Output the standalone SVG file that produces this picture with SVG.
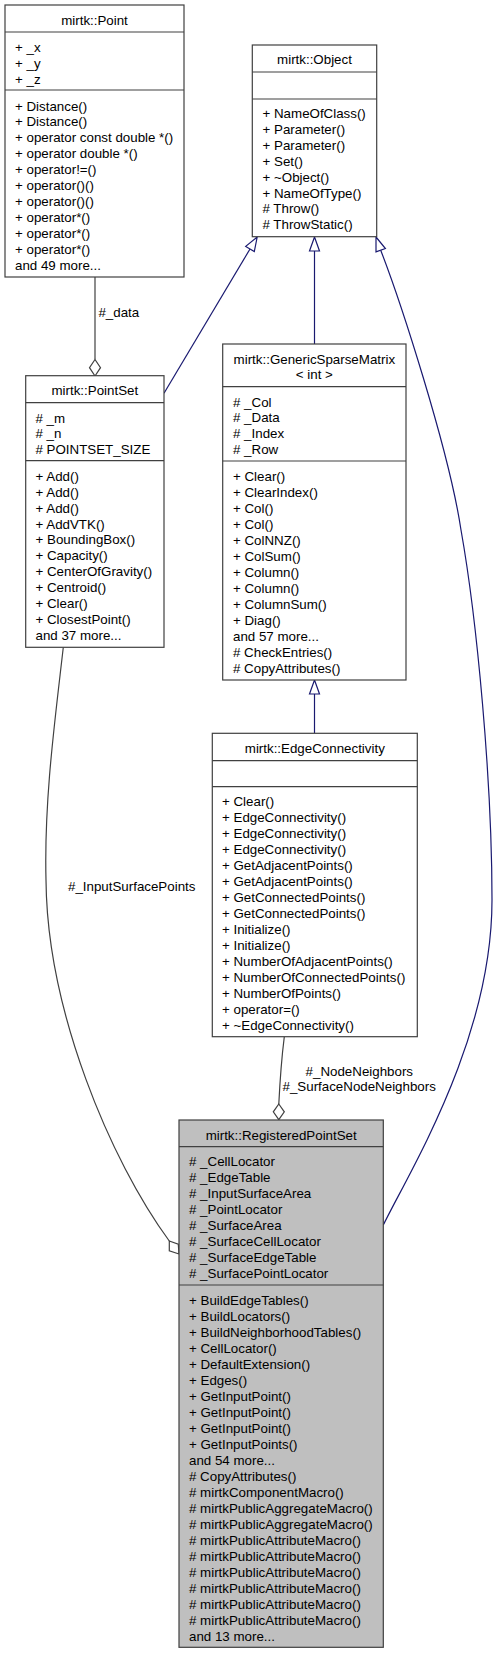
<svg xmlns="http://www.w3.org/2000/svg" width="495" height="1656" viewBox="0 0 495 1656">
<style>
text{font-family:"Liberation Sans",Arial,Helvetica,sans-serif;font-size:13.33px;fill:#000}
.t{text-anchor:middle}
.box{fill:#fff;stroke:#404040;stroke-width:1.2}
.cur{fill:#bfbfbf;stroke:#404040;stroke-width:1.2}
.sep{stroke:#404040;stroke-width:1.2}
.inh{fill:none;stroke:#191970;stroke-width:1.2}
.inhh{fill:#fff;stroke:#191970;stroke-width:1.2}
.agg{fill:none;stroke:#404040;stroke-width:1.2}
.aggh{fill:#fff;stroke:#404040;stroke-width:1.2}
</style>
<rect width="495" height="1656" fill="#fff"/>
<g id="connectors">
<path class="agg" d="M95,277 L95,359.5"/>
<polygon class="aggh" points="95,359.5 100.5,367.7 95,376 89.5,367.7"/>
<text class="t" x="118.8" y="316.5">#_data</text>
<path class="inh" d="M164,393.3 L250,249"/>
<polygon class="inhh" points="257.2,237 254.3,251.6 245.7,246.4"/>
<path class="inh" d="M314.5,251 L314.5,344"/>
<polygon class="inhh" points="314.5,237 319.5,251 309.5,251"/>
<path class="inh" d="M383.3,1225 C409,1172 492,1040 492,900 C492,780 477,620 461,530 C449,450 400,300 380.7,250.2"/>
<polygon class="inhh" points="376,237 385.4,248.5 376,251.9"/>
<path class="inh" d="M314.5,694 L314.5,733.3"/>
<polygon class="inhh" points="314.5,680 319.5,694 309.5,694"/>
<path class="agg" d="M284.3,1036.7 C282,1055 280,1080 278.8,1104"/>
<polygon class="aggh" points="278.8,1104 284.3,1111.8 278.8,1119.6 273.3,1111.8"/>
<text class="t" x="359.3" y="1075.5">#_NodeNeighbors</text>
<text class="t" x="359.2" y="1091">#_SurfaceNodeNeighbors</text>
<path class="agg" d="M63.3,647.3 C55,720 44,800 46,880 C47,1010 110,1160 169.3,1241"/>
<polygon class="aggh" points="169.3,1241 178.3,1244.3 179,1254 169.3,1250.7"/>
<text class="t" x="131.7" y="891">#_InputSurfacePoints</text>
</g>
<g id="node-Point">
<rect class="box" x="5" y="5" width="179" height="272"/>
<line class="sep" x1="5" y1="32" x2="184" y2="32"/>
<line class="sep" x1="5" y1="90" x2="184" y2="90"/>
<text class="t" x="94.5" y="24.5">mirtk::Point</text>
<text x="15" y="52">+ _x</text>
<text x="15" y="67.9">+ _y</text>
<text x="15" y="83.8">+ _z</text>
<text x="15" y="110.5">+ Distance()</text>
<text x="15" y="126.4">+ Distance()</text>
<text x="15" y="142.3">+ operator const double *()</text>
<text x="15" y="158.2">+ operator double *()</text>
<text x="15" y="174.1">+ operator!=()</text>
<text x="15" y="190">+ operator()()</text>
<text x="15" y="205.9">+ operator()()</text>
<text x="15" y="221.8">+ operator*()</text>
<text x="15" y="237.7">+ operator*()</text>
<text x="15" y="253.6">+ operator*()</text>
<text x="15" y="269.5">and 49 more...</text>
</g>
<g id="node-PointSet">
<rect class="box" x="25.7" y="375.7" width="138.3" height="271.6"/>
<line class="sep" x1="25.7" y1="402.7" x2="164" y2="402.7"/>
<line class="sep" x1="25.7" y1="460.7" x2="164" y2="460.7"/>
<text class="t" x="94.85" y="395">mirtk::PointSet</text>
<text x="35.5" y="422.5"># _m</text>
<text x="35.5" y="438.4"># _n</text>
<text x="35.5" y="454.3"># POINTSET_SIZE</text>
<text x="35.5" y="480.8">+ Add()</text>
<text x="35.5" y="496.7">+ Add()</text>
<text x="35.5" y="512.6">+ Add()</text>
<text x="35.5" y="528.5">+ AddVTK()</text>
<text x="35.5" y="544.4">+ BoundingBox()</text>
<text x="35.5" y="560.3">+ Capacity()</text>
<text x="35.5" y="576.2">+ CenterOfGravity()</text>
<text x="35.5" y="592.1">+ Centroid()</text>
<text x="35.5" y="608">+ Clear()</text>
<text x="35.5" y="623.9">+ ClosestPoint()</text>
<text x="35.5" y="639.8">and 37 more...</text>
</g>
<g id="node-Object">
<rect class="box" x="252.3" y="45" width="124.4" height="191.7"/>
<line class="sep" x1="252.3" y1="72" x2="376.7" y2="72"/>
<line class="sep" x1="252.3" y1="99" x2="376.7" y2="99"/>
<text class="t" x="314.5" y="64">mirtk::Object</text>
<text x="262.5" y="118">+ NameOfClass()</text>
<text x="262.5" y="133.9">+ Parameter()</text>
<text x="262.5" y="149.8">+ Parameter()</text>
<text x="262.5" y="165.7">+ Set()</text>
<text x="262.5" y="181.6">+ ~Object()</text>
<text x="262.5" y="197.5">+ NameOfType()</text>
<text x="262.5" y="213.4"># Throw()</text>
<text x="262.5" y="229.3"># ThrowStatic()</text>
</g>
<g id="node-GenericSparseMatrix">
<rect class="box" x="222.7" y="344" width="183.3" height="336"/>
<line class="sep" x1="222.7" y1="386.7" x2="406" y2="386.7"/>
<line class="sep" x1="222.7" y1="461" x2="406" y2="461"/>
<text class="t" x="314.35" y="363.5">mirtk::GenericSparseMatrix</text>
<text class="t" x="314.35" y="378.8">&lt; int &gt;</text>
<text x="233" y="406.5"># _Col</text>
<text x="233" y="422.4"># _Data</text>
<text x="233" y="438.3"># _Index</text>
<text x="233" y="454.2"># _Row</text>
<text x="233" y="480.5">+ Clear()</text>
<text x="233" y="496.5">+ ClearIndex()</text>
<text x="233" y="512.5">+ Col()</text>
<text x="233" y="528.5">+ Col()</text>
<text x="233" y="544.5">+ ColNNZ()</text>
<text x="233" y="560.5">+ ColSum()</text>
<text x="233" y="576.5">+ Column()</text>
<text x="233" y="592.5">+ Column()</text>
<text x="233" y="608.5">+ ColumnSum()</text>
<text x="233" y="624.5">+ Diag()</text>
<text x="233" y="640.5">and 57 more...</text>
<text x="233" y="656.5"># CheckEntries()</text>
<text x="233" y="672.5"># CopyAttributes()</text>
</g>
<g id="node-EdgeConnectivity">
<rect class="box" x="212.3" y="733.3" width="205" height="303.4"/>
<line class="sep" x1="212.3" y1="760.7" x2="417.3" y2="760.7"/>
<line class="sep" x1="212.3" y1="786.7" x2="417.3" y2="786.7"/>
<text class="t" x="314.8" y="752.8">mirtk::EdgeConnectivity</text>
<text x="222" y="806.3">+ Clear()</text>
<text x="222" y="822.25">+ EdgeConnectivity()</text>
<text x="222" y="838.2">+ EdgeConnectivity()</text>
<text x="222" y="854.15">+ EdgeConnectivity()</text>
<text x="222" y="870.1">+ GetAdjacentPoints()</text>
<text x="222" y="886.05">+ GetAdjacentPoints()</text>
<text x="222" y="902">+ GetConnectedPoints()</text>
<text x="222" y="917.95">+ GetConnectedPoints()</text>
<text x="222" y="933.9">+ Initialize()</text>
<text x="222" y="949.85">+ Initialize()</text>
<text x="222" y="965.8">+ NumberOfAdjacentPoints()</text>
<text x="222" y="981.75">+ NumberOfConnectedPoints()</text>
<text x="222" y="997.7">+ NumberOfPoints()</text>
<text x="222" y="1013.65">+ operator=()</text>
<text x="222" y="1029.6">+ ~EdgeConnectivity()</text>
</g>
<g id="node-RegisteredPointSet">
<rect class="cur" x="179" y="1120" width="204.3" height="527.3"/>
<line class="sep" x1="179" y1="1146.7" x2="383.3" y2="1146.7"/>
<line class="sep" x1="179" y1="1285" x2="383.3" y2="1285"/>
<text class="t" x="281.2" y="1139.5">mirtk::RegisteredPointSet</text>
<text x="189" y="1166.2"># _CellLocator</text>
<text x="189" y="1182.15"># _EdgeTable</text>
<text x="189" y="1198.1"># _InputSurfaceArea</text>
<text x="189" y="1214.05"># _PointLocator</text>
<text x="189" y="1230"># _SurfaceArea</text>
<text x="189" y="1245.95"># _SurfaceCellLocator</text>
<text x="189" y="1261.9"># _SurfaceEdgeTable</text>
<text x="189" y="1277.85"># _SurfacePointLocator</text>
<text x="189" y="1304.5">+ BuildEdgeTables()</text>
<text x="189" y="1320.5">+ BuildLocators()</text>
<text x="189" y="1336.5">+ BuildNeighborhoodTables()</text>
<text x="189" y="1352.5">+ CellLocator()</text>
<text x="189" y="1368.5">+ DefaultExtension()</text>
<text x="189" y="1384.5">+ Edges()</text>
<text x="189" y="1400.5">+ GetInputPoint()</text>
<text x="189" y="1416.5">+ GetInputPoint()</text>
<text x="189" y="1432.5">+ GetInputPoint()</text>
<text x="189" y="1448.5">+ GetInputPoints()</text>
<text x="189" y="1464.5">and 54 more...</text>
<text x="189" y="1480.5"># CopyAttributes()</text>
<text x="189" y="1496.5"># mirtkComponentMacro()</text>
<text x="189" y="1512.5"># mirtkPublicAggregateMacro()</text>
<text x="189" y="1528.5"># mirtkPublicAggregateMacro()</text>
<text x="189" y="1544.5"># mirtkPublicAttributeMacro()</text>
<text x="189" y="1560.5"># mirtkPublicAttributeMacro()</text>
<text x="189" y="1576.5"># mirtkPublicAttributeMacro()</text>
<text x="189" y="1592.5"># mirtkPublicAttributeMacro()</text>
<text x="189" y="1608.5"># mirtkPublicAttributeMacro()</text>
<text x="189" y="1624.5"># mirtkPublicAttributeMacro()</text>
<text x="189" y="1641">and 13 more...</text>
</g>
</svg>
